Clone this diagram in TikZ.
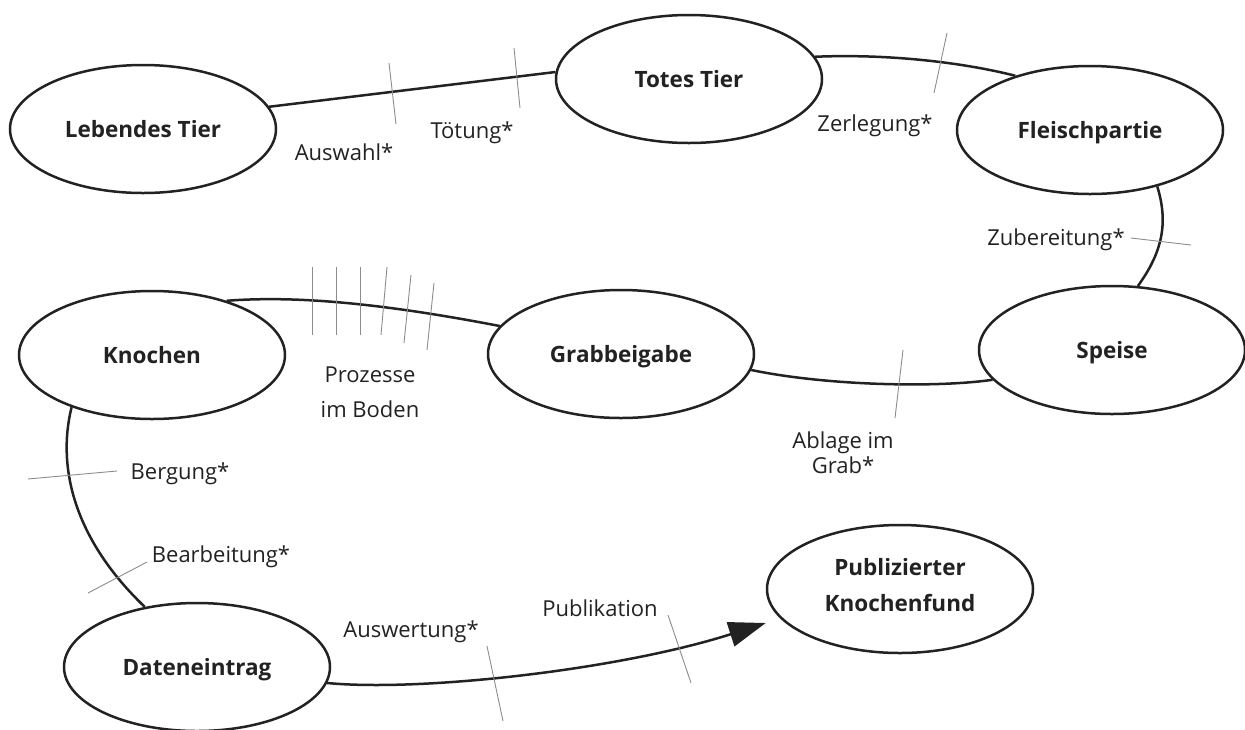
\documentclass[tikz,border=0pt]{standalone}
\usepackage{fontspec}
\setmainfont{Open Sans}
\usetikzlibrary{shapes.geometric,arrows.meta}
\definecolor{ink}{HTML}{222222}
\definecolor{tickc}{HTML}{8C8C8C}
\begin{document}
\begin{tikzpicture}[x=1pt,y=-1pt,
  state/.style={ellipse, draw=ink, line width=2.5pt, minimum width=266pt,
    minimum height=128pt, inner sep=0pt, text=ink,
    font=\fontsize{22.5}{36}\selectfont\bfseries, align=center, text depth=0pt},
  lab/.style={text=ink, font=\fontsize{22}{25}\selectfont, anchor=base,
    inner sep=0pt, align=center},
  link/.style={draw=ink, line width=2.5pt},
  tickmark/.style={draw=tickc, line width=0.9pt}]
\path[use as bounding box] (0,0) rectangle (1245,729);

% states
\node[state] (lt) at (143,129) {Lebendes Tier};
\node[state] (tt) at (689,79) {Totes Tier};
\node[state] (fp) at (1090,130) {Fleischpartie};
\node[state] (sp) at (1112,350) {Speise};
\node[state] (gb) at (621,354) {Grabbeigabe};
\node[state] (kn) at (152,355) {Knochen};
\node[state] (de) at (197,667) {Dateneintrag};
\node[state, text depth=8pt] (pk) at (900,589) {Publizierter\\Knochenfund};

% connectors
\draw[link] (lt.10) -- (tt.177);
\draw[link] (tt.10) .. controls +(70,-3) and +(-55,-14) .. (fp.144);
\draw[link] (fp.-40) .. controls +(10,33) and +(27,-37) .. (sp.68);
\draw[link] (sp.194) .. controls +(-55,8) and +(77,16) .. (gb.-7);
\draw[link] (kn.36) .. controls +(77,-6) and +(-104,-20) .. (gb.167);
\draw[link] (kn.213) .. controls +(-15,61) and +(-70,-67) .. (de.131);
\draw[link, -{Triangle[length=37pt,width=25pt]}] (de.-7)
  .. controls +(93,9) and +(-147,47) .. ([yshift=-34pt]pk.west);

% tick marks
\draw[tickmark] (389,63) -- (396,124);
\draw[tickmark] (514,48) -- (520,108);
\draw[tickmark] (947,33) -- (934,93);
\draw[tickmark] (1131,238) -- (1191,245);
\draw[tickmark] (903,350) -- (895,418);
\draw[tickmark] (312,267) -- (312,335);
\draw[tickmark] (336,267) -- (336,335);
\draw[tickmark] (360,267) -- (360,335);
\draw[tickmark] (387,267) -- (381,335);
\draw[tickmark] (411,275) -- (404,343);
\draw[tickmark] (434,283) -- (427,350);
\draw[tickmark] (28,479) -- (117,471);
\draw[tickmark] (88,593) -- (147,562);
\draw[tickmark] (487,646) -- (503,721);
\draw[tickmark] (668,615) -- (691,683);

% labels
\node[lab] (l1) at (344,160) {Auswahl*};
\node[lab] (l2) at (472,138) {Tötung*};
\node[lab] (l3) at (875,131) {Zerlegung*};
\node[lab] (l4) at (1056,245) {Zubereitung*};
\node[lab] (l5) at (843,473) {Ablage im\\Grab*};
\node[lab, font=\fontsize{22}{35}\selectfont] (l6) at (370,417) {Prozesse\\im Boden};
\node[lab] (l7) at (180,479) {Bergung*};
\node[lab] (l8) at (221,562) {Bearbeitung*};
\node[lab] (l9) at (411,637) {Auswertung*};
\node[lab] (l10) at (600,616) {Publikation};
\end{tikzpicture}
\end{document}
